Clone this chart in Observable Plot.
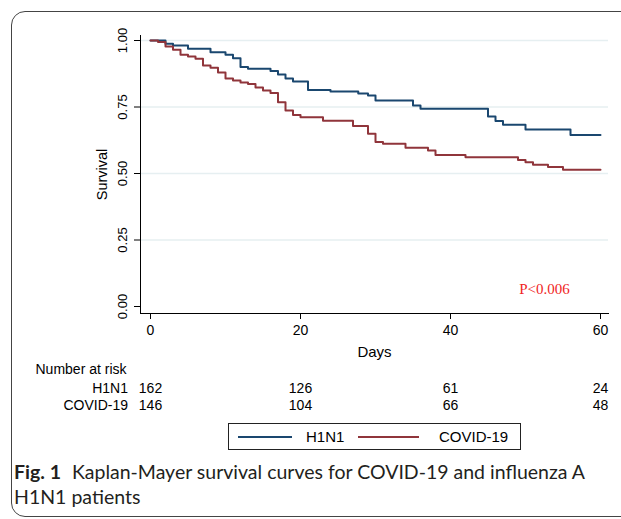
<!DOCTYPE html>
<html>
<head>
<meta charset="utf-8">
<script src="https://cdn.jsdelivr.net/npm/d3@7"></script>
<script src="https://cdn.jsdelivr.net/npm/@observablehq/plot@0.6"></script>
<style>
  html, body { margin: 0; padding: 0; background: #fff; }
  body { width: 621px; height: 519px; overflow: hidden; position: relative; font-family: "Liberation Sans", Arial, sans-serif; }
  #frame { position: absolute; left: 11px; top: 11px; width: 650px; height: 506px; border: 1px solid #444; border-radius: 14px; box-sizing: border-box; }
  #chart { position: absolute; left: 0; top: 0; }
  #legend { position: absolute; left: 228px; top: 423px; width: 293px; height: 27px; border: 1px solid #222; box-sizing: border-box; font-size: 15px; }
  #legend .sw { position: absolute; top: 12px; height: 2px; }
  #legend .lb { position: absolute; top: 4px; line-height: 17px; }
  #caption { position: absolute; left: 14px; top: 459px; font-family: Lato, "Open Sans", sans-serif; font-size: 19.5px; line-height: 25px; color: #231f20; white-space: nowrap; }
  #caption b { font-weight: 700; margin-right: 6px; }
</style>
</head>
<body>
<div id="frame"></div>
<div id="chart"></div>
<div id="legend"></div>
<div id="caption"><b>Fig. 1</b> Kaplan-Mayer survival curves for COVID-19 and influenza A<br>H1N1 patients</div>
<script>
// ---- data ----
const seriesNames = ["H1N1", "COVID-19"];
const seriesColors = ["#1a476f", "#90353b"];

const h1n1Days = [0, 2, 3, 5, 8, 10, 11, 12, 13, 16, 17, 18, 19, 21, 24, 27.7, 29, 30, 35, 36, 45, 46, 47, 50, 56, 60];
const h1n1Surv = [1, 0.988, 0.981, 0.969, 0.956, 0.946, 0.933, 0.900, 0.894, 0.885, 0.872, 0.857, 0.846, 0.814, 0.808, 0.801, 0.793, 0.774, 0.756, 0.743, 0.714, 0.697, 0.683, 0.665, 0.645, 0.645];

const covidDays = [0, 1, 2, 3, 4, 5, 6, 7, 8, 9, 10, 11, 12, 13, 14, 15, 16, 17, 18, 19, 20, 23, 27, 29, 30, 31, 34, 37, 38, 42, 49, 50, 51, 53, 55, 60];
const covidSurv = [1, 0.994, 0.977, 0.965, 0.946, 0.940, 0.931, 0.906, 0.898, 0.880, 0.857, 0.850, 0.842, 0.836, 0.823, 0.812, 0.803, 0.768, 0.737, 0.720, 0.711, 0.698, 0.679, 0.649, 0.618, 0.612, 0.597, 0.586, 0.570, 0.561, 0.551, 0.542, 0.533, 0.524, 0.514, 0.514];

const xTicks = [0, 20, 40, 60];
const yTicks = [0, 0.25, 0.5, 0.75, 1];
const gridTicks = [0.25, 0.5, 0.75, 1];

const riskDays = [0, 20, 40, 60];
const riskH1N1 = [162, 126, 61, 24];
const riskCovid = [146, 104, 66, 48];

const pText = "P<0.006";

// ---- build table ----
const curves = [
  ...h1n1Days.map((d, i) => ({ day: d, surv: h1n1Surv[i], group: seriesNames[0] })),
  ...covidDays.map((d, i) => ({ day: d, surv: covidSurv[i], group: seriesNames[1] }))
];

const plot = Plot.plot({
  width: 621,
  height: 455,
  marginLeft: 140,
  marginRight: 13,
  marginTop: 35,
  marginBottom: 142,
  insetLeft: 10,
  insetRight: 8,
  insetTop: 5,
  insetBottom: 7,
  x: { domain: [0, 60] },
  y: { domain: [0, 1] },
  color: { domain: seriesNames, range: seriesColors },
  style: { fontFamily: '"Liberation Sans", Arial, sans-serif', fontSize: "14px", color: "#000", background: "transparent", overflow: "visible" },
  marks: [
    Plot.gridY(gridTicks, { stroke: "#e6eff1", strokeOpacity: 1, strokeWidth: 1.5 }),
    Plot.frame({ anchor: "left", stroke: "#000" }),
    Plot.frame({ anchor: "bottom", stroke: "#000" }),
    Plot.axisX({ ticks: xTicks, tickSize: 6, tickPadding: 6, fontSize: 14, label: null, tickFormat: d3.format("d") }),
    Plot.axisY({ ticks: yTicks, tickSize: 6, tickPadding: 8, tickRotate: -90, fontSize: 13, label: null, tickFormat: d3.format(".2f") }),
    Plot.line(curves, { x: "day", y: "surv", z: "group", stroke: "group", curve: "step-after", strokeWidth: 2 }),
    Plot.text(["Days"], { frameAnchor: "bottom", dy: 43, lineAnchor: "bottom", fontSize: 15 }),
    Plot.text(["Survival"], { frameAnchor: "left", dx: -34, rotate: -90, textAnchor: "middle", lineAnchor: "bottom", fontSize: 14.5 }),
    Plot.text([pText], { frameAnchor: "bottom-right", dx: -64, dy: -20, lineAnchor: "bottom", textAnchor: "middle", fontFamily: '"Liberation Serif", "Times New Roman", serif', fontSize: 15, fill: "#f02424" }),
    Plot.text(["Number at risk"], { frameAnchor: "bottom-left", dx: -105, dy: 60, textAnchor: "start", lineAnchor: "bottom", fontSize: 14 }),
    Plot.text([seriesNames[0]], { frameAnchor: "bottom-left", dx: -12.5, dy: 79, textAnchor: "end", lineAnchor: "bottom", fontSize: 14 }),
    Plot.text([seriesNames[1]], { frameAnchor: "bottom-left", dx: -12.5, dy: 96, textAnchor: "end", lineAnchor: "bottom", fontSize: 14 }),
    Plot.text(riskDays, { x: d => d, text: (d, i) => riskH1N1[i], frameAnchor: "bottom", dy: 79, lineAnchor: "bottom", fontSize: 14 }),
    Plot.text(riskDays, { x: d => d, text: (d, i) => riskCovid[i], frameAnchor: "bottom", dy: 96, lineAnchor: "bottom", fontSize: 14 })
  ]
});
document.getElementById("chart").appendChild(plot);

// ---- legend ----
const legend = document.getElementById("legend");
const swLeft = [9, 129];
const swWidth = [54, 61];
const lbLeft = [77, 210];
seriesNames.forEach((name, i) => {
  const sw = document.createElement("div");
  sw.className = "sw";
  sw.style.left = swLeft[i] + "px";
  sw.style.width = swWidth[i] + "px";
  sw.style.background = seriesColors[i];
  legend.appendChild(sw);
  const lb = document.createElement("div");
  lb.className = "lb";
  lb.style.left = lbLeft[i] + "px";
  lb.textContent = name;
  legend.appendChild(lb);
});
</script>
</body>
</html>
